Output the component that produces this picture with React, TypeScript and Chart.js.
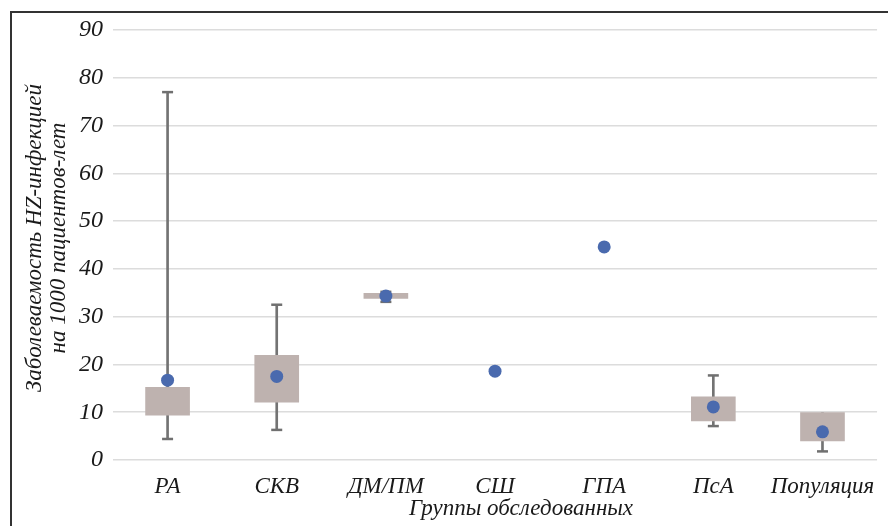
import React, { useEffect, useRef } from "react";
import { Chart, registerables } from "chart.js";

Chart.register(...registerables);

const categories = ["РА", "СКВ", "ДМ/ПМ", "СШ", "ГПА", "ПсА", "Популяция"];
const boxLow = [9.4, 12.1, 33.8, null, null, 8.2, 4.0];
const boxHigh = [15.2, 21.9, 34.9, null, null, 13.2, 9.9];
const whiskerLow = [4.4, 6.3, 33.1, null, null, 7.1, 1.8];
const whiskerHigh = [77, 32.5, 35.2, null, null, 17.7, 9.9];
const capsTop = [77, 32.5, 35.2, null, null, 17.7, null];
const meanValues = [16.7, 17.5, 34.3, 18.6, 44.6, 11.1, 5.9];
const yTicks = [0, 10, 20, 30, 40, 50, 60, 70, 80, 90];
const yTitleLines = ["Заболеваемость HZ-инфекцией", "на 1000 пациентов-лет"];
const xTitle = "Группы обследованных";

const FONT_FAMILY = "'Liberation Serif', 'Times New Roman', serif";

const titlesPlugin = {
  id: "customTitles",
  afterDraw(chart: any) {
    const ctx = chart.ctx;
    ctx.save();
    ctx.fillStyle = "#1a1a1a";
    ctx.font = `italic 23px ${FONT_FAMILY}`;
    ctx.textAlign = "center";
    ctx.textBaseline = "middle";
    const cy = 238;
    const xs = [35, 59];
    yTitleLines.forEach((line, i) => {
      ctx.save();
      ctx.translate(xs[i], cy);
      ctx.rotate(-Math.PI / 2);
      ctx.fillText(line, 0, 0);
      ctx.restore();
    });
    ctx.fillText(xTitle, 521, 509);
    ctx.restore();
  },
};

export default function App() {
  const ref = useRef<HTMLCanvasElement | null>(null);
  useEffect(() => {
    if (!ref.current) return;
    const boxData = categories.map((_, i) =>
      boxLow[i] == null ? null : [boxLow[i], boxHigh[i]]
    );
    const whiskerData = categories.map((_, i) =>
      whiskerLow[i] == null ? null : [whiskerLow[i], whiskerHigh[i]]
    );
    const chart = new Chart(ref.current, {
      type: "bar",
      data: {
        labels: categories,
        datasets: [
          {
            type: "line",
            label: "mean",
            data: meanValues,
            showLine: false,
            pointRadius: 6.5,
            pointBackgroundColor: "#4a6aae",
            pointBorderColor: "#4a6aae",
            pointBorderWidth: 0,
            order: 0,
          } as any,
          {
            type: "line",
            label: "capTop",
            data: capsTop,
            showLine: false,
            pointStyle: "line",
            pointRadius: 5.5,
            pointBorderColor: "#707070",
            pointBorderWidth: 2.5,
            order: 1,
          } as any,
          {
            type: "line",
            label: "capBottom",
            data: whiskerLow,
            showLine: false,
            pointStyle: "line",
            pointRadius: 5.5,
            pointBorderColor: "#707070",
            pointBorderWidth: 2.5,
            order: 1,
          } as any,
          {
            type: "bar",
            label: "box",
            data: boxData as any,
            backgroundColor: "#beb2af",
            borderWidth: 0,
            barThickness: 44,
            grouped: false,
            order: 2,
          } as any,
          {
            type: "bar",
            label: "whisker",
            data: whiskerData as any,
            backgroundColor: "#737373",
            borderWidth: 0,
            barThickness: 2,
            grouped: false,
            order: 3,
          } as any,
        ],
      },
      options: {
        responsive: false,
        animation: false,
        layout: { padding: { top: 30, right: 10, bottom: 0, left: 0 } },
        plugins: {
          legend: { display: false },
          tooltip: { enabled: false },
          title: { display: false },
        },
        scales: {
          x: {
            offset: true,
            grid: { display: false, drawTicks: false },
            border: { display: false },
            ticks: {
              color: "#1a1a1a",
              padding: 13,
              maxRotation: 0,
              autoSkip: false,
              font: { family: FONT_FAMILY, size: 23, style: "italic" },
            },
            afterFit(scale: any) {
              scale.height = 66;
            },
          },
          y: {
            min: 0,
            max: 90,
            afterBuildTicks(scale: any) {
              scale.ticks = yTicks.map((v) => ({ value: v }));
            },
            grid: { color: "#dcdcdc", lineWidth: 1.5, drawTicks: false },
            border: { display: false },
            ticks: {
              color: "#1a1a1a",
              padding: 10,
              font: { family: FONT_FAMILY, size: 24, style: "italic" },
            },
            afterFit(scale: any) {
              scale.width = 113;
            },
          },
        },
      },
      plugins: [titlesPlugin],
    });
    return () => chart.destroy();
  }, []);

  return (
    <div
      style={{
        position: "fixed",
        left: 0,
        top: 0,
        width: 888,
        height: 526,
        background: "#fff",
        overflow: "hidden",
      }}
    >
      <canvas ref={ref} width={888} height={526} style={{ width: 888, height: 526, display: "block" }} />
      <div
        style={{
          position: "absolute",
          left: 10,
          top: 11,
          width: 1000,
          height: 1000,
          borderLeft: "2px solid #333",
          borderTop: "2px solid #333",
          pointerEvents: "none",
        }}
      />
    </div>
  );
}
